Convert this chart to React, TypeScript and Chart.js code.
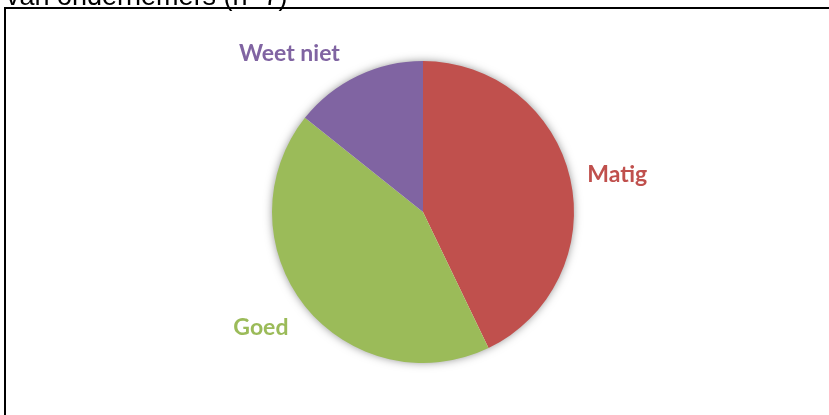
import React, { useEffect, useRef } from "react";
import { Chart, registerables } from "chart.js";

Chart.register(...registerables);

const categories = ["Matig", "Goed", "Weet niet"];
const counts = [3, 3, 1];
const colors = ["#C0504D", "#9BBB59", "#8064A2"];
const titleText = "van ondernemers (n=7)";

// label placement: angle offset (deg) from slice mid-angle, distance factor of radius
const labelAngleAdjust = [2, 3, -14.5];
const labelDistFactor = [1.31, 1.32, 1.37];

export default function App() {
  const ref = useRef<HTMLCanvasElement>(null);
  useEffect(() => {
    document.body.style.margin = "0";
    const canvas = ref.current!;
    const decor = {
      id: "decor",
      beforeDatasetsDraw(chart: any) {
        const ctx = chart.ctx;
        const arc = chart.getDatasetMeta(0).data[0];
        if (!arc) return;
        const p = arc.getProps(["x", "y", "outerRadius"], true);
        ctx.save();
        ctx.shadowColor = "rgba(0,0,0,0.5)";
        ctx.shadowBlur = 10;
        ctx.fillStyle = "#ffffff";
        ctx.beginPath();
        ctx.arc(p.x, p.y, p.outerRadius - 1, 0, Math.PI * 2);
        ctx.fill();
        ctx.restore();
      },
      afterDraw(chart: any) {
        const ctx = chart.ctx;
        ctx.save();
        // frame
        ctx.strokeStyle = "#000000";
        ctx.lineWidth = 2;
        ctx.beginPath();
        ctx.moveTo(5, 420);
        ctx.lineTo(5, 8);
        ctx.lineTo(840, 8);
        ctx.stroke();
        // title
        ctx.fillStyle = "#000000";
        ctx.font = "27px 'Liberation Sans', Arial, sans-serif";
        ctx.textBaseline = "alphabetic";
        ctx.textAlign = "left";
        ctx.fillText(titleText, 6, 5);
        // labels
        const meta = chart.getDatasetMeta(0);
        ctx.font = "bold 23px Lato, 'Open Sans', sans-serif";
        ctx.textAlign = "center";
        ctx.textBaseline = "middle";
        meta.data.forEach((el: any, i: number) => {
          const p = el.getProps(["x", "y", "startAngle", "endAngle", "outerRadius"], true);
          const mid = (p.startAngle + p.endAngle) / 2 + (labelAngleAdjust[i] * Math.PI) / 180;
          const d = p.outerRadius * labelDistFactor[i];
          ctx.fillStyle = colors[i];
          ctx.fillText(categories[i], p.x + Math.cos(mid) * d, p.y + Math.sin(mid) * d);
        });
        ctx.restore();
      },
    };
    const chart = new Chart(canvas, {
      type: "pie",
      data: {
        labels: categories,
        datasets: [
          {
            data: counts,
            backgroundColor: colors,
            borderWidth: 0,
          },
        ],
      },
      options: {
        responsive: false,
        animation: false,
        events: [],
        layout: { padding: { left: 272, right: 255, top: 61, bottom: 52 } },
        plugins: { legend: { display: false }, tooltip: { enabled: false }, title: { display: false } },
      },
      plugins: [decor],
    });
    return () => chart.destroy();
  }, []);
  return (
    <div style={{ width: 829, height: 415, background: "#fff" }}>
      <canvas ref={ref} width={829} height={415} style={{ display: "block" }} />
    </div>
  );
}
